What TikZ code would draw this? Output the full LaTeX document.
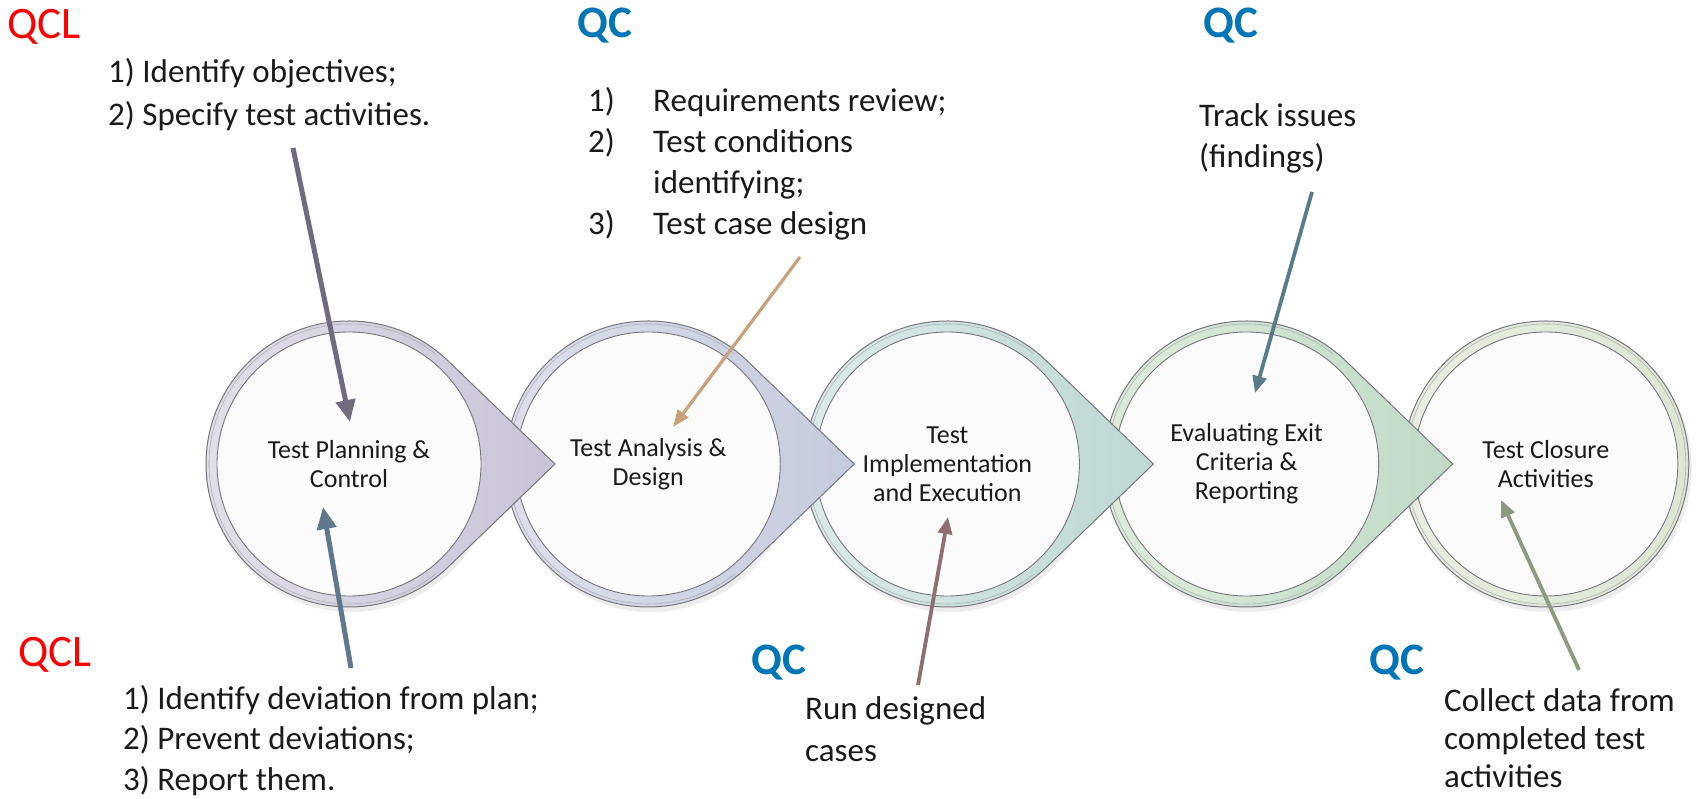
\documentclass[tikz,border=0pt]{standalone}
\usepackage{fontspec}
\setmainfont{Carlito}
\usetikzlibrary{arrows.meta,calc}
\definecolor{qclred}{RGB}{255,0,0}
\definecolor{qcblue}{RGB}{0,118,182}
\definecolor{textc}{RGB}{26,26,26}
\definecolor{edgec}{RGB}{118,118,126}
\definecolor{innerc}{RGB}{251,251,252}
\definecolor{r1l}{RGB}{226,224,234}\definecolor{r1r}{RGB}{200,196,214}
\definecolor{r2l}{RGB}{222,225,236}\definecolor{r2r}{RGB}{196,203,220}
\definecolor{r3l}{RGB}{220,236,233}\definecolor{r3r}{RGB}{190,216,212}
\definecolor{r4l}{RGB}{222,237,220}\definecolor{r4r}{RGB}{192,218,198}
\definecolor{r5l}{RGB}{232,238,224}\definecolor{r5r}{RGB}{220,230,210}
\definecolor{a1c}{RGB}{112,107,128}
\definecolor{a2c}{RGB}{95,120,140}
\definecolor{a3c}{RGB}{200,160,122}
\definecolor{a4c}{RGB}{145,110,112}
\definecolor{a5c}{RGB}{88,124,138}
\definecolor{a6c}{RGB}{140,155,125}
\tikzset{
  ringedge/.style={draw=edgec, line width=1pt},
  bevel/.style={draw=edgec!60, line width=0.6pt},
  stage/.style={circle, minimum size=264pt, inner sep=0pt, draw=edgec, line width=0.9pt,
    fill=innerc, align=center, text=textc, font=\fontsize{26}{29}\selectfont},
  note/.style={anchor=base west, inner sep=0pt, text=textc, font=\fontsize{33}{41}\selectfont},
  qcl/.style={anchor=base west, inner sep=0pt, text=qclred, font=\fontsize{45}{50}\selectfont},
  qc/.style={anchor=base west, inner sep=0pt, text=qcblue, font=\bfseries\fontsize{45}{50}\selectfont},
  thickarrow/.style={line width=5pt, -{Triangle[length=22pt,width=19pt]}},
  thinarrow/.style={line width=3.8pt, -{Triangle[length=17pt,width=14pt]}},
  shadowc/.style={fill=black, opacity=0.07}
}
\begin{document}
\begin{tikzpicture}[x=1pt,y=1pt]
\useasboundingbox (0,0) rectangle (1696,799);
\fill[white] (0,0) rectangle (1696,799);

% circle centres
\coordinate (c1) at (349,335);
\coordinate (c2) at (648.2,335);
\coordinate (c3) at (947.4,335);
\coordinate (c4) at (1246.6,335);
\coordinate (c5) at (1545.8,335);

% shadows
\foreach \i in {1,...,5}{
  \fill[shadowc] ($(c\i)+(2,-4)$) circle[radius=144];
}

% stage 5 (no pointer)
\draw[ringedge, left color=r5l, right color=r5r] (c5) circle[radius=143];
\draw[bevel] (c5) circle[radius=140];
\node[stage] (s5) at (c5) {Test Closure\\Activities};

% stage 4
\draw[ringedge, left color=r4l, right color=r4r]
  ($(c4)+(206,0)$) -- ($(c4)+(46:143)$) arc[start angle=46, end angle=314, radius=143] -- cycle;
\draw[bevel] ($(c4)+(52:140)$) arc[start angle=52, end angle=308, radius=140];
\node[stage] (s4) at (c4) {Evaluating Exit\\Criteria \&\\Reporting};

% stage 3
\draw[ringedge, left color=r3l, right color=r3r]
  ($(c3)+(206,0)$) -- ($(c3)+(46:143)$) arc[start angle=46, end angle=314, radius=143] -- cycle;
\draw[bevel] ($(c3)+(52:140)$) arc[start angle=52, end angle=308, radius=140];
\node[stage] (s3) at (c3) {Test\\Implementation\\and Execution};

% stage 2
\draw[ringedge, left color=r2l, right color=r2r]
  ($(c2)+(206,0)$) -- ($(c2)+(46:143)$) arc[start angle=46, end angle=314, radius=143] -- cycle;
\draw[bevel] ($(c2)+(52:140)$) arc[start angle=52, end angle=308, radius=140];
\node[stage] (s2) at (c2) {Test Analysis \&\\Design};

% stage 1
\draw[ringedge, left color=r1l, right color=r1r]
  ($(c1)+(206,0)$) -- ($(c1)+(46:143)$) arc[start angle=46, end angle=314, radius=143] -- cycle;
\draw[bevel] ($(c1)+(52:140)$) arc[start angle=52, end angle=308, radius=140];
\node[stage] (s1) at (c1) {Test Planning \&\\Control};

% labels
\node[qcl] (qclt) at (7,760) {QCL};
\node[note] (o1) at (108,716) {1) Identify objectives;};
\node[note] (o2) at (108,673) {2) Specify test activities.};

\node[qc] (qct2) at (577,761) {QC};
\node[note] (r1n) at (588,687) {1)};
\node[note] (r1) at (653,687) {Requirements review;};
\node[note] (r2n) at (588,646) {2)};
\node[note] (r2) at (653,646) {Test conditions};
\node[note] (r2b) at (653,605) {identifying;};
\node[note] (r3n) at (588,564) {3)};
\node[note] (r3) at (653,564) {Test case design};

\node[qc] (qct4) at (1203,761) {QC};
\node[note] (t1) at (1199,672) {Track issues};
\node[note] (t2) at (1199,631) {(findings)};

\node[qcl] (qclb) at (18,132) {QCL};
\node[note] (d1) at (123,89) {1) Identify deviation from plan;};
\node[note] (d2) at (123,49) {2) Prevent deviations;};
\node[note] (d3) at (123,8) {3) Report them.};

\node[qc] (qcb3) at (751,124) {QC};
\node[note] (u1) at (805,79) {Run designed};
\node[note] (u2) at (805,37) {cases};

\node[qc] (qcb5) at (1369,124) {QC};
\node[note] (k1) at (1444,87) {Collect data from};
\node[note] (k2) at (1444,49) {completed test};
\node[note] (k3) at (1444,11) {activities};

% arrow ends
\coordinate (a1s) at (293,651); \coordinate (a1e) at (350,377);
\coordinate (a2s) at (351,131); \coordinate (a2e) at (323,292);
\coordinate (a3s) at (800,542); \coordinate (a3e) at (673,372);
\coordinate (a4s) at (918,114); \coordinate (a4e) at (948,282);
\coordinate (a5s) at (1312,607); \coordinate (a5e) at (1255,406);
\coordinate (a6s) at (1579,129); \coordinate (a6e) at (1501,299);

\draw[thickarrow, draw=a1c, fill=a1c] (a1s) -- (a1e);
\draw[thickarrow, draw=a2c, fill=a2c] (a2s) -- (a2e);
\draw[line width=3.2pt, -{Triangle[length=17pt,width=13pt]}, draw=a3c, fill=a3c] (a3s) -- (a3e);
\draw[thinarrow, draw=a4c, fill=a4c] (a4s) -- (a4e);
\draw[thinarrow, draw=a5c, fill=a5c] (a5s) -- (a5e);
\draw[thinarrow, draw=a6c, fill=a6c] (a6s) -- (a6e);
\end{tikzpicture}
\end{document}
